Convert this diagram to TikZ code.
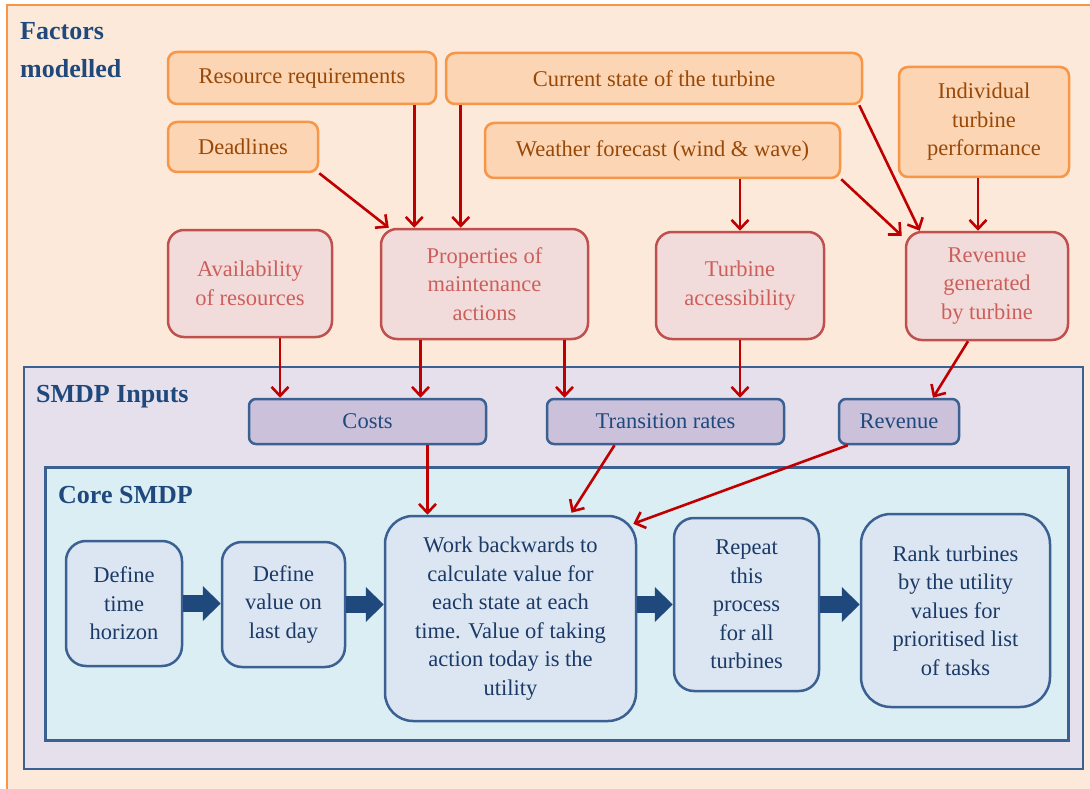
\documentclass[tikz,border=0pt]{standalone}
\usepackage{fontspec}
\setmainfont{Liberation Serif}
\usetikzlibrary{arrows.meta}
\definecolor{peach}{HTML}{FDE9D9}
\definecolor{orangeline}{HTML}{F79646}
\definecolor{orangefill}{HTML}{FCD5B5}
\definecolor{orangetext}{HTML}{984807}
\definecolor{rosefill}{HTML}{F2DCDB}
\definecolor{roseline}{HTML}{C0504D}
\definecolor{rosetext}{HTML}{CC5F5B}
\definecolor{lilac}{HTML}{E5E0EC}
\definecolor{lilacbox}{HTML}{CCC1DA}
\definecolor{blueline}{HTML}{3B6092}
\definecolor{bluetext}{HTML}{1F497D}
\definecolor{darkblue}{HTML}{1B3A66}
\definecolor{cyanfill}{HTML}{DBEEF4}
\definecolor{stepfill}{HTML}{DCE6F2}
\definecolor{arrowred}{HTML}{C00000}

\begin{document}
\begin{tikzpicture}[%
x=1pt, y=-1pt,
boxfont/.style={font=\fontsize{22.5}{28.5}\selectfont},
titel/.style={text=bluetext, font=\bfseries\fontsize{26}{38}\selectfont, inner sep=0pt},
faktor/.style={boxfont, draw=orangeline, fill=orangefill, text=orangetext, line width=2.5pt, rounded corners=9pt, align=center, inner sep=0pt},
egenskap/.style={boxfont, draw=roseline, fill=rosefill, text=rosetext, line width=2.5pt, rounded corners=16pt, align=center, inner sep=0pt},
input/.style={boxfont, draw=blueline, fill=lilacbox, text=bluetext, line width=2.5pt, rounded corners=7pt, align=center, inner sep=0pt},
trinn/.style={boxfont, draw=blueline, fill=stepfill, text=darkblue, line width=2.5pt, rounded corners=20pt, align=center, inner sep=0pt},
flyt/.style={draw=arrowred, line width=2.6pt, -{Straight Barb[length=9pt,width=17pt,line width=2.6pt]}},
blokkpil/.style={draw=bluetext, line width=17pt, -{Triangle[length=18pt,width=34pt]}}]
\useasboundingbox (0,0) rectangle (1090,789);
\clip (0,0) rectangle (1090,789);
% rammer
\draw [fill=peach, draw=orangeline, line width=2.5pt] (7,5) rectangle (1110,810);
\node [titel, anchor=north west, align=left] (faktortitel) at (20,22) {Factors\\modelled};
\draw [fill=lilac, draw=blueline, line width=2.8pt] (24,367) rectangle (1083,769);
\node [titel, anchor=base west] (inputtitel) at (36,402) {SMDP Inputs};
\draw [fill=cyanfill, draw=blueline, line width=3pt] (45,467) rectangle (1068,740);
\node [titel, anchor=base west] (kjernetittel) at (58,503) {Core SMDP};
% faktorer
\node [faktor, minimum width=268pt, minimum height=52pt] (ressurs) at (302,78) {Resource requirements};
\node [faktor, minimum width=150pt, minimum height=50pt] (frister) at (243,147) {Deadlines};
\node [faktor, minimum width=416pt, minimum height=51pt] (tilstand) at (654,78.5) {Current state of the turbine};
\node [faktor, minimum width=355pt, minimum height=55pt] (vaer) at (662.5,150.5) {Weather forecast (wind \& wave)};
\node [faktor, minimum width=170pt, minimum height=110pt] (ytelse) at (984,122) {Individual\\turbine\\performance};
% egenskaper
\node [egenskap, minimum width=164pt, minimum height=107pt] (tilgang) at (250,283.5) {Availability\\of resources};
\node [egenskap, minimum width=207pt, minimum height=110pt] (vedlikehold) at (484.5,284) {Properties of\\maintenance\\actions};
\node [egenskap, minimum width=168pt, minimum height=107pt] (adkomst) at (740,285.5) {Turbine\\accessibility};
\node [egenskap, minimum width=162pt, minimum height=108pt] (inntekt) at (987,286) {Revenue\\generated\\by turbine};
% SMDP-input
\node [input, minimum width=237pt, minimum height=45pt] (kostnad) at (367.5,421.5) {Costs};
\node [input, minimum width=237pt, minimum height=45pt] (overgang) at (665.5,421.5) {Transition rates};
\node [input, minimum width=120pt, minimum height=45pt] (inntekt2) at (899,421.5) {Revenue};
% kjerne
\node [trinn, minimum width=116pt, minimum height=125pt] (horisont) at (124,603.5) {Define\\time\\horizon};
\node [trinn, minimum width=123pt, minimum height=125pt] (sluttverdi) at (283.5,604.5) {Define\\value on\\last day};
\node [trinn, minimum width=251pt, minimum height=205pt, rounded corners=28pt] (baklengs) at (510.5,618.5) {Work backwards to\\calculate value for\\each state at each\\time. Value of taking\\action today is the\\utility};
\node [trinn, minimum width=145pt, minimum height=173pt] (gjenta) at (746.5,604.5) {Repeat\\this\\process\\for all\\turbines};
\node [trinn, minimum width=189pt, minimum height=193pt, rounded corners=30pt] (ranger) at (955.5,610.5) {Rank turbines\\by the utility\\values for\\prioritised list\\of tasks};
% piler
\draw [flyt] (frister.south east) -- ([xshift=9pt]vedlikehold.north west);
\draw [flyt] ([xshift=-23pt]ressurs.south east) -- ([xshift=-23pt]ressurs.south east |- vedlikehold.north);
\draw [flyt] ([xshift=16pt]tilstand.south west) -- ([xshift=16pt]tilstand.south west |- vedlikehold.north);
\draw [flyt] ([xshift=-4pt]tilstand.south east) -- ([xshift=15pt]inntekt.north west);
\draw [flyt] (vaer.south east) -- ([xshift=-3pt,yshift=-5pt]inntekt.north west);
\draw [flyt] (adkomst.north |- vaer.south) -- (adkomst.north);
\draw [flyt] ([xshift=-6pt]ytelse.south) -- ([xshift=-6pt]ytelse.south |- inntekt.north);
\draw [flyt] ([xshift=30pt]tilgang.south) -- ([xshift=30pt]tilgang.south |- kostnad.north);
\draw [flyt] ([xshift=-64pt]vedlikehold.south) -- ([xshift=-64pt]vedlikehold.south |- kostnad.north);
\draw [flyt] ([xshift=80pt]vedlikehold.south) -- ([xshift=80pt]vedlikehold.south |- overgang.north);
\draw [flyt] (adkomst.south) -- (adkomst.south |- overgang.north);
\draw [flyt] ([xshift=-19pt]inntekt.south) -- ([xshift=34pt]inntekt2.north);
\draw [flyt] ([xshift=60pt]kostnad.south) -- ([xshift=60pt]kostnad.south |- baklengs.north);
\draw [flyt] ([xshift=-51pt]overgang.south) -- ([xshift=61pt,yshift=2pt]baklengs.north);
\draw [flyt] ([xshift=10pt]inntekt2.south west) -- ([xshift=-4pt,yshift=-9pt]baklengs.north east);
\draw [blokkpil] (horisont.east) -- (horisont.east -| sluttverdi.west);
\draw [blokkpil] (sluttverdi.east) -- (sluttverdi.east -| baklengs.west);
\draw [blokkpil] (gjenta.west -| baklengs.east) -- (gjenta.west);
\draw [blokkpil] (gjenta.east) -- (gjenta.east -| ranger.west);
\end{tikzpicture}
\end{document}
